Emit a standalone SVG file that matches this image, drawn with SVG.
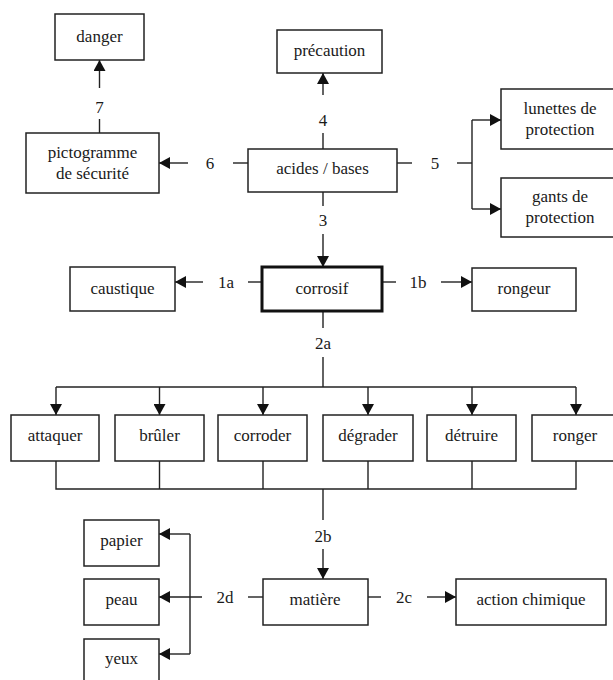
<svg xmlns="http://www.w3.org/2000/svg" width="613" height="680" viewBox="0 0 613 680" font-family="'DejaVu Serif', 'Liberation Serif', serif">
<style>
.b{fill:#fff;stroke:#222;stroke-width:1.5}
.bt{fill:#fff;stroke:#111;stroke-width:3}
text{font-family:"Liberation Serif","DejaVu Serif",serif;font-size:17px;fill:#1a1a1a;text-anchor:middle;dominant-baseline:central}
.c line,.c path{stroke:#222;stroke-width:1.4;fill:none}
.a{marker-end:url(#ah)}
</style>
<defs>
<marker id="ah" markerUnits="userSpaceOnUse" refX="11" refY="6" markerWidth="12" markerHeight="12" orient="auto">
<path d="M0,0 L11,6 L0,12 z" fill="#111"/>
</marker>
</defs>
<rect width="613" height="680" fill="#fff"/>
<g class="c" id="connectors">
<line x1="99.5" y1="133" x2="99.5" y2="119"/>
<line class="a" x1="99.5" y1="88" x2="99.5" y2="60"/>
<text x="99.5" y="107">7</text>
<line x1="248" y1="163" x2="233" y2="163"/>
<line class="a" x1="188" y1="163" x2="159" y2="163"/>
<text x="210" y="163">6</text>
<line x1="323" y1="149" x2="323" y2="133"/>
<line class="a" x1="323" y1="95" x2="323" y2="73"/>
<text x="323" y="120">4</text>
<line x1="397" y1="163" x2="412" y2="163"/>
<line x1="457" y1="163" x2="472" y2="163"/>
<line x1="472" y1="120" x2="472" y2="209"/>
<line class="a" x1="472" y1="120" x2="501" y2="120"/>
<line class="a" x1="472" y1="209" x2="501" y2="209"/>
<text x="435" y="163">5</text>
<line x1="323" y1="192" x2="323" y2="206"/>
<line class="a" x1="323" y1="234" x2="323" y2="267"/>
<text x="323" y="220">3</text>
<line x1="262" y1="282" x2="248" y2="282"/>
<line class="a" x1="203" y1="282" x2="175" y2="282"/>
<text x="226" y="282">1a</text>
<line x1="382" y1="282" x2="396" y2="282"/>
<line class="a" x1="441" y1="282" x2="472" y2="282"/>
<text x="418" y="282">1b</text>
<line x1="323" y1="311" x2="323" y2="328"/>
<line x1="323" y1="357" x2="323" y2="387"/>
<text x="323" y="343">2a</text>
<path d="M56,387 H576"/>
<line class="a" x1="56" y1="387" x2="56" y2="415"/>
<line class="a" x1="159.5" y1="387" x2="159.5" y2="415"/>
<line class="a" x1="263" y1="387" x2="263" y2="415"/>
<line class="a" x1="368" y1="387" x2="368" y2="415"/>
<line class="a" x1="472" y1="387" x2="472" y2="415"/>
<line class="a" x1="576" y1="387" x2="576" y2="415"/>
<path d="M56,461 V489 H576 V461 M159.5,461 V489 M263,461 V489 M368,461 V489 M472,461 V489"/>
<line x1="323" y1="489" x2="323" y2="520"/>
<line class="a" x1="323" y1="549" x2="323" y2="579"/>
<text x="323" y="536">2b</text>
<line x1="263" y1="597" x2="248" y2="597"/>
<line class="a" x1="202" y1="597" x2="159" y2="597"/>
<line x1="190" y1="534" x2="190" y2="654"/>
<line class="a" x1="190" y1="534" x2="159" y2="534"/>
<line class="a" x1="190" y1="654" x2="159" y2="654"/>
<text x="225" y="597">2d</text>
<line x1="368" y1="597" x2="381" y2="597"/>
<line class="a" x1="427" y1="597" x2="456" y2="597"/>
<text x="404" y="597">2c</text>
</g>
<g id="danger"><rect class="b" x="55" y="14" width="89" height="46"/><text x="99.5" y="36">danger</text></g>
<g id="precaution"><rect class="b" x="277" y="30" width="105" height="43"/><text x="329.5" y="50">précaution</text></g>
<g id="pictogramme"><rect class="b" x="26" y="133" width="133" height="60"/><text x="92.5" y="152">pictogramme</text><text x="92.5" y="173">de sécurité</text></g>
<g id="acides"><rect class="b" x="248" y="149" width="149" height="43"/><text x="322.5" y="168">acides / bases</text></g>
<g id="lunettes"><rect class="b" x="501" y="89" width="120" height="60"/><text x="560" y="108">lunettes de</text><text x="560" y="129">protection</text></g>
<g id="gants"><rect class="b" x="501" y="178" width="120" height="59"/><text x="560" y="196">gants de</text><text x="560" y="217">protection</text></g>
<g id="caustique"><rect class="b" x="70" y="267" width="105" height="44"/><text x="122.5" y="288">caustique</text></g>
<g id="corrosif"><rect class="bt" x="262" y="267" width="120" height="44"/><text x="322" y="288">corrosif</text></g>
<g id="rongeur"><rect class="b" x="472" y="268" width="104" height="43"/><text x="524" y="288">rongeur</text></g>
<g id="attaquer"><rect class="b" x="11" y="415" width="88" height="46"/><text x="55" y="435">attaquer</text></g>
<g id="bruler"><rect class="b" x="115" y="415" width="89" height="46"/><text x="159.5" y="435">brûler</text></g>
<g id="corroder"><rect class="b" x="218" y="415" width="89" height="46"/><text x="262.5" y="435">corroder</text></g>
<g id="degrader"><rect class="b" x="323" y="415" width="90" height="46"/><text x="368" y="435">dégrader</text></g>
<g id="detruire"><rect class="b" x="427" y="415" width="89" height="46"/><text x="471.5" y="435">détruire</text></g>
<g id="ronger"><rect class="b" x="532" y="415" width="88" height="46"/><text x="575" y="435">ronger</text></g>
<g id="papier"><rect class="b" x="84" y="520" width="75" height="46"/><text x="121.5" y="540">papier</text></g>
<g id="peau"><rect class="b" x="84" y="579" width="75" height="46"/><text x="121.5" y="599">peau</text></g>
<g id="yeux"><rect class="b" x="84" y="639" width="75" height="46"/><text x="121.5" y="658">yeux</text></g>
<g id="matiere"><rect class="b" x="263" y="579" width="105" height="46"/><text x="315" y="599">matière</text></g>
<g id="action"><rect class="b" x="456" y="579" width="150" height="46"/><text x="531" y="599">action chimique</text></g>
</svg>
